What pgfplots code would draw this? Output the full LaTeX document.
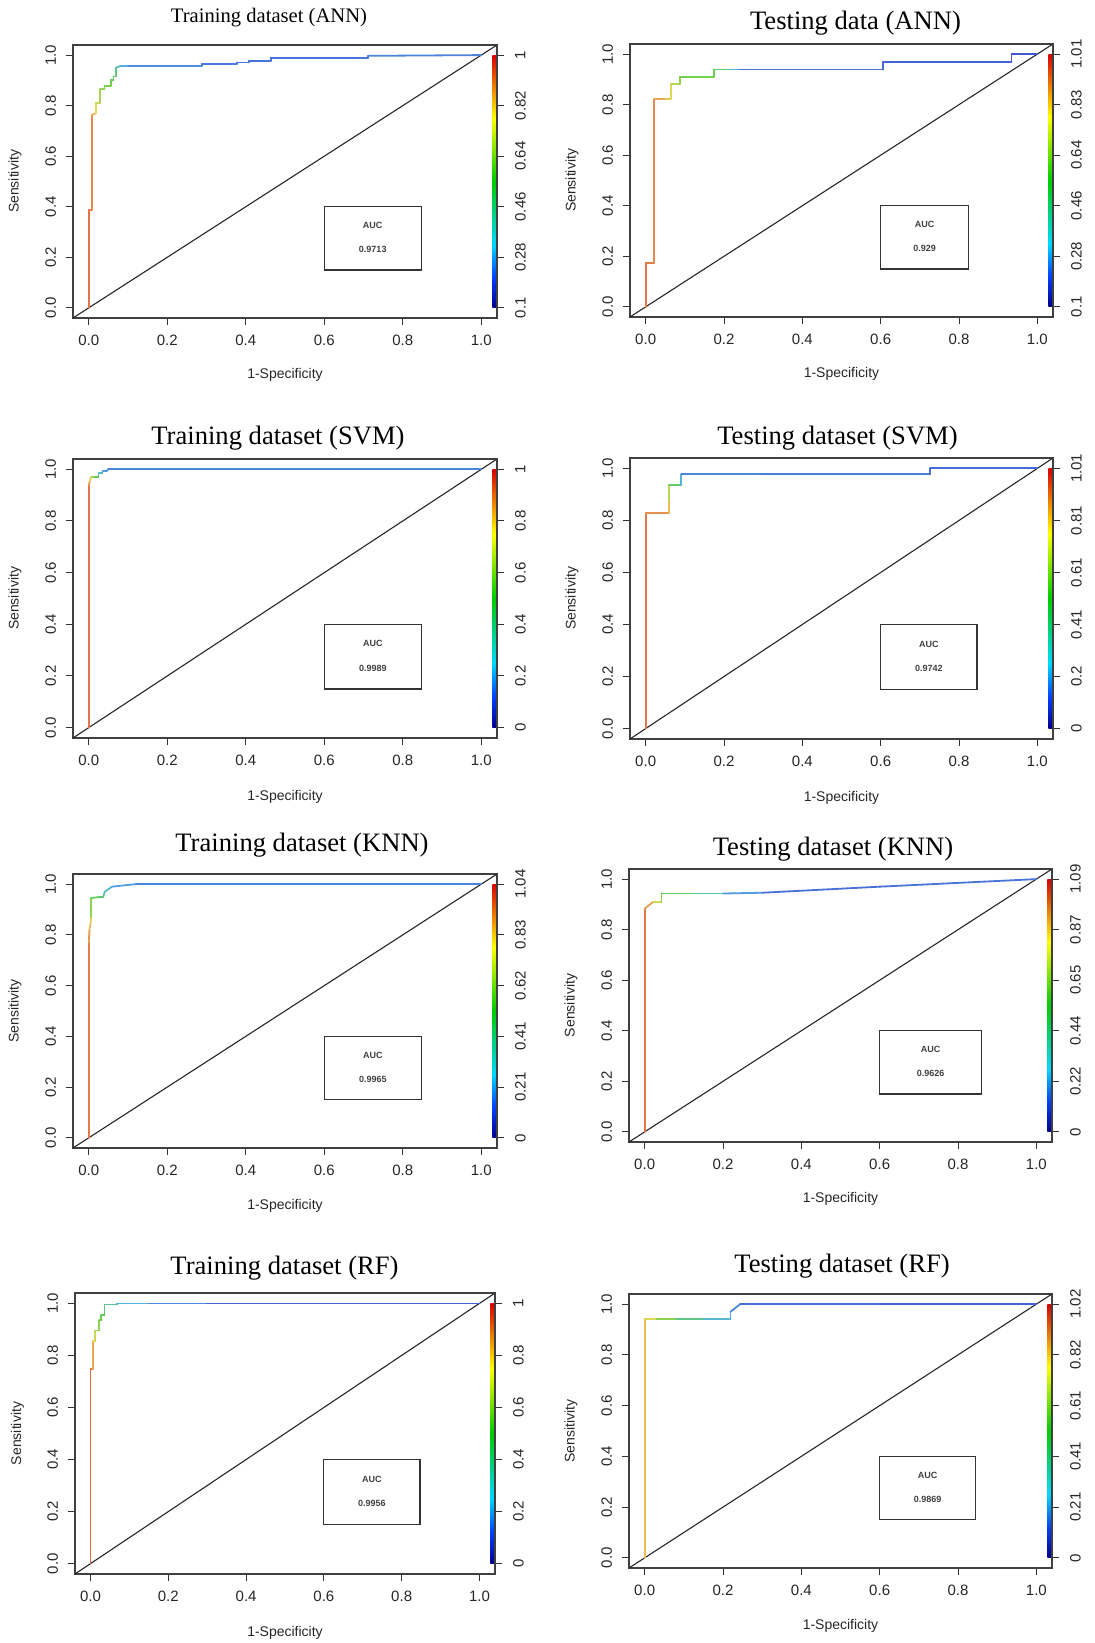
\documentclass[border=0pt]{standalone}
\usepackage{fontspec}
\setmainfont{Liberation Sans}
\newfontfamily\titlefont{Liberation Serif}
\usepackage{pgfplots}
\pgfplotsset{compat=1.18}

% colour bar (cutoff scale, blue = low, red = high)
\definecolor{cb0}{rgb}{0,0,0.55}
\definecolor{cbb}{rgb}{0,0.25,1}
\definecolor{cb1}{rgb}{0,0.85,1}
\definecolor{cb2}{rgb}{0,0.8,0}
\definecolor{cb3}{rgb}{1,1,0}
\definecolor{cb4}{rgb}{0.85,0,0}
\pgfdeclareverticalshading{cbar}{100bp}{color(0bp)=(cb0); color(25bp)=(cb0); color(31bp)=(cbb); color(37.5bp)=(cb1); color(50bp)=(cb2); color(62.5bp)=(cb3); color(75bp)=(cb4); color(100bp)=(cb4)}

\newcommand{\lblfont}{\fontsize{7}{8}\selectfont}
\newcommand{\ttl}{\titlefont\fontsize{13.3}{15}\selectfont}

\pgfplotsset{
  colormap={curve}{rgb=(0.26,0.32,0.82) rgb=(0.33,0.7,0.9) rgb=(0.4,0.82,0.3) rgb=(0.93,0.85,0.35) rgb=(0.88,0.33,0.26)},
  roc/.style={
    scale only axis, anchor=south west,
    xmin=-0.04, xmax=1.04, ymin=-0.04, ymax=1.04,
    xtick={0,0.2,0.4,0.6,0.8,1}, ytick={0,0.2,0.4,0.6,0.8,1},
    xticklabels={0.0,0.2,0.4,0.6,0.8,1.0},
    yticklabels={0.0,0.2,0.4,0.6,0.8,1.0},
    xtick pos=bottom, ytick pos=left,
    tick align=outside, major tick length=3.5pt,
    tick style={black!80, line width=0.5pt},
    axis line style={black!75, line width=0.8pt},
    ticklabel style={font=\fontsize{7.5}{8}\selectfont, text=black!85},
    yticklabel style={rotate=90, anchor=south},
    xticklabel shift=1.5pt, yticklabel shift=1.5pt,
    colormap name=curve, point meta min=0, point meta max=1,
    clip=false,
  },
  cbax/.style={
    scale only axis, anchor=south west,
    xmin=-0.04, xmax=1.04, ymin=-0.04, ymax=1.04,
    axis x line=none, axis y line*=right,
    ytick={0,0.2,0.4,0.6,0.8,1},
    tick align=outside, major tick length=3.5pt,
    tick style={black!80, line width=0.5pt},
    axis line style={black!75, line width=0.8pt},
    ticklabel style={font=\fontsize{7.5}{8}\selectfont, text=black!85},
    yticklabel style={rotate=90, anchor=north},
    yticklabel shift=2pt,
  },
  curve/.style={mesh, point meta=explicit, line width=0.9pt, line cap=round},
}

% AUC legend box: right edge, centre, value; plus colour strip, diagonal, labels
\newcommand{\aucbox}[3]{%
  \draw[black!80, line width=0.6pt] (axis cs:0.6,0.15) rectangle (axis cs:#1,0.4);
  \node[font=\bfseries\fontsize{4.5}{5}\selectfont, text=black!75] at (axis cs:#2,0.325) {AUC};
  \node[font=\bfseries\fontsize{4.5}{5}\selectfont, text=black!75] at (axis cs:#2,0.23) {#3};
  \shade[shading=cbar] (axis cs:1.028,0) rectangle (axis cs:1.039,1);
  \addplot[black!85, line width=0.55pt] coordinates {(-0.04,-0.04) (1.04,1.04)};
  \node[font=\lblfont, text=black!85] at (rel axis cs:0.5,-0.21) {1-Specificity};
  \node[font=\lblfont, text=black!85, rotate=90] at (rel axis cs:-0.137,0.5) {Sensitivity};
}

\begin{document}
\begin{tikzpicture}
\useasboundingbox (0,0) rectangle (547pt,821.5pt);

% ---------------- row 1 ----------------
\node[font=\titlefont\fontsize{10.3}{12}\selectfont] at (134.5pt,812.5pt) {Training dataset (ANN)};
\begin{axis}[roc, at={(36.5pt,662.5pt)}, width=212pt, height=136.5pt]
\aucbox{0.847}{0.7235}{0.9713}
\addplot[curve] table[meta=c, row sep=\\] {
x y c\\
0 0 0.95\\ 0 0.388 0.93\\ 0.008 0.388 0.92\\ 0.008 0.763 0.88\\
0.018 0.77 0.78\\ 0.018 0.812 0.72\\ 0.029 0.812 0.66\\ 0.029 0.865 0.6\\
0.04 0.865 0.57\\ 0.04 0.878 0.55\\ 0.056 0.878 0.52\\ 0.056 0.9 0.5\\
0.063 0.9 0.48\\ 0.063 0.915 0.46\\ 0.069 0.915 0.44\\ 0.069 0.95 0.38\\
0.083 0.958 0.28\\ 0.1 0.958 0.2\\ 0.288 0.958 0.12\\ 0.288 0.965 0.11\\
0.377 0.965 0.1\\ 0.377 0.971 0.1\\ 0.408 0.971 0.09\\ 0.408 0.978 0.09\\
0.464 0.978 0.08\\ 0.464 0.99 0.08\\ 0.712 0.99 0.1\\ 0.712 0.997 0.12\\
1 1 0.14\\
};
\end{axis}
\begin{axis}[cbax, at={(36.5pt,662.5pt)}, width=212pt, height=136.5pt,
  yticklabels={0.1,0.28,0.46,0.64,0.82,1}]
\end{axis}

\node[font=\ttl] at (427.75pt,810pt) {Testing data (ANN)};
\begin{axis}[roc, at={(315pt,663pt)}, width=211.5pt, height=136.5pt]
\aucbox{0.825}{0.7125}{0.929}
\addplot[curve] table[meta=c, row sep=\\] {
x y c\\
0 0 0.95\\ 0 0.175 0.93\\ 0.022 0.175 0.92\\ 0.022 0.822 0.88\\
0.05 0.822 0.82\\ 0.064 0.822 0.76\\ 0.064 0.881 0.68\\ 0.087 0.881 0.62\\
0.087 0.91 0.55\\ 0.174 0.91 0.5\\ 0.174 0.939 0.48\\ 0.214 0.939 0.42\\
0.24 0.939 0.1\\ 0.606 0.939 0.08\\ 0.606 0.97 0.06\\ 0.934 0.97 0.04\\
0.934 1 0.02\\ 1 1 0.01\\
};
\end{axis}
\begin{axis}[cbax, at={(315pt,663pt)}, width=211.5pt, height=136.5pt,
  yticklabels={0.1,0.28,0.46,0.64,0.83,1.01}]
\end{axis}

% ---------------- row 2 ----------------
\node[font=\ttl] at (139pt,602.5pt) {Training dataset (SVM)};
\begin{axis}[roc, at={(36.5pt,452.5pt)}, width=212pt, height=139.5pt]
\aucbox{0.848}{0.724}{0.9989}
\addplot[curve] table[meta=c, row sep=\\] {
x y c\\
0 0 0.95\\ 0 0.938 0.92\\ 0.003 0.955 0.82\\ 0.006 0.97 0.7\\
0.015 0.97 0.55\\ 0.025 0.97 0.45\\ 0.025 0.985 0.35\\ 0.035 0.985 0.28\\
0.035 0.993 0.22\\ 0.045 0.993 0.18\\ 0.05 1 0.15\\ 1 1 0.12\\
};
\end{axis}
\begin{axis}[cbax, at={(36.5pt,452.5pt)}, width=212pt, height=139.5pt,
  yticklabels={0,0.2,0.4,0.6,0.8,1}]
\end{axis}

\node[font=\ttl] at (418.75pt,602.5pt) {Testing dataset (SVM)};
\begin{axis}[roc, at={(315pt,452pt)}, width=211.5pt, height=140.5pt]
\aucbox{0.846}{0.723}{0.9742}
\addplot[curve] table[meta=c, row sep=\\] {
x y c\\
0 0 0.95\\ 0 0.829 0.92\\ 0.06 0.829 0.85\\ 0.06 0.88 0.75\\
0.06 0.936 0.55\\ 0.091 0.936 0.35\\ 0.091 0.977 0.15\\ 0.3 0.977 0.12\\
0.726 0.977 0.1\\ 0.726 1 0.07\\ 1 1 0.05\\
};
\end{axis}
\begin{axis}[cbax, at={(315pt,452pt)}, width=211.5pt, height=140.5pt,
  yticklabels={0,0.2,0.41,0.61,0.81,1.01}]
\end{axis}

% ---------------- row 3 ----------------
\node[font=\ttl] at (151pt,399pt) {Training dataset (KNN)};
\begin{axis}[roc, at={(36.5pt,247.5pt)}, width=212pt, height=137pt]
\aucbox{0.848}{0.724}{0.9965}
\addplot[curve] table[meta=c, row sep=\\] {
x y c\\
0 0 0.95\\ 0 0.77 0.9\\ 0.002 0.82 0.85\\ 0.005 0.85 0.75\\
0.006 0.872 0.65\\ 0.006 0.945 0.5\\ 0.03 0.95 0.45\\ 0.037 0.95 0.42\\
0.041 0.97 0.35\\ 0.059 0.99 0.25\\ 0.12 1 0.15\\ 1 1 0.12\\
};
\end{axis}
\begin{axis}[cbax, at={(36.5pt,247.5pt)}, width=212pt, height=137pt,
  yticklabels={0,0.21,0.41,0.62,0.83,1.04}]
\end{axis}

\node[font=\ttl] at (416.5pt,397pt) {Testing dataset (KNN)};
\begin{axis}[roc, at={(314.5pt,250.5pt)}, width=211.5pt, height=136.5pt]
\aucbox{0.86}{0.73}{0.9626}
\addplot[curve] table[meta=c, row sep=\\] {
x y c\\
0 0 0.95\\ 0 0.883 0.92\\ 0.021 0.909 0.8\\ 0.043 0.909 0.6\\
0.043 0.943 0.5\\ 0.13 0.943 0.42\\ 0.2 0.943 0.28\\ 0.3 0.946 0.1\\
0.6 0.97 0.06\\ 1 1 0.12\\
};
\end{axis}
\begin{axis}[cbax, at={(314.5pt,250.5pt)}, width=211.5pt, height=136.5pt,
  yticklabels={0,0.22,0.44,0.65,0.87,1.09}]
\end{axis}

% ---------------- row 4 ----------------
\node[font=\ttl] at (142.25pt,187.5pt) {Training dataset (RF)};
\begin{axis}[roc, at={(37.5pt,34.5pt)}, width=210pt, height=140.5pt]
\aucbox{0.847}{0.7235}{0.9956}
\addplot[curve] table[meta=c, row sep=\\] {
x y c\\
0 0 0.97\\ 0 0.748 0.95\\ 0.006 0.748 0.9\\ 0.006 0.855 0.78\\
0.011 0.855 0.72\\ 0.011 0.896 0.66\\ 0.022 0.896 0.6\\ 0.022 0.935 0.55\\
0.027 0.935 0.52\\ 0.027 0.955 0.5\\ 0.036 0.955 0.47\\ 0.036 0.996 0.42\\
0.069 0.996 0.35\\ 0.069 1 0.3\\ 0.15 1 0.22\\ 0.3 1 0.08\\ 1 1 0.0\\
};
\end{axis}
\begin{axis}[cbax, at={(37.5pt,34.5pt)}, width=210pt, height=140.5pt,
  yticklabels={0,0.2,0.4,0.6,0.8,1}]
\end{axis}

\node[font=\ttl] at (421pt,188.5pt) {Testing dataset (RF)};
\begin{axis}[roc, at={(314.5pt,37.5pt)}, width=211.5pt, height=137pt]
\aucbox{0.845}{0.7225}{0.9869}
\addplot[curve] table[meta=c, row sep=\\] {
x y c\\
0 0 0.82\\ 0 0.941 0.78\\ 0.03 0.941 0.65\\ 0.08 0.941 0.5\\
0.15 0.941 0.32\\ 0.219 0.941 0.25\\ 0.219 0.97 0.18\\ 0.244 1 0.1\\
0.6 1 0.06\\ 1 1 0.03\\
};
\end{axis}
\begin{axis}[cbax, at={(314.5pt,37.5pt)}, width=211.5pt, height=137pt,
  yticklabels={0,0.21,0.41,0.61,0.82,1.02}]
\end{axis}
\end{tikzpicture}
\end{document}
